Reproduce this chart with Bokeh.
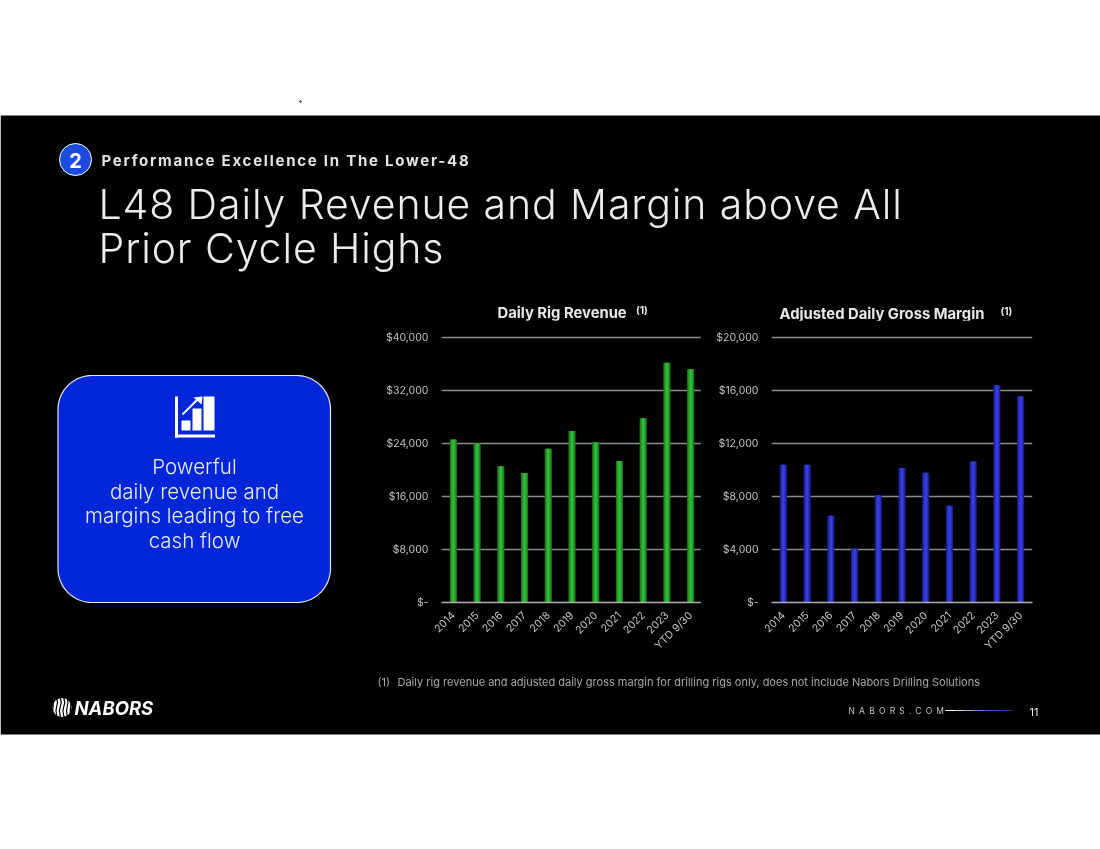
import numpy as np
from bokeh.plotting import figure
from bokeh.models import FactorRange, FixedTicker, Range1d
from bokeh.core.properties import value
from bokeh.embed import file_html
from bokeh.resources import INLINE

categories = ["2014", "2015", "2016", "2017", "2018", "2019", "2020", "2021", "2022", "2023", "YTD 9/30"]
revenue = [24600, 24000, 20550, 19550, 23200, 25900, 24200, 21350, 27800, 36200, 35200]
margin = [10400, 10400, 6550, 4050, 8100, 10150, 9800, 7300, 10650, 16400, 15550]
revenue_ticks = [0, 8000, 16000, 24000, 32000, 40000]
margin_ticks = [0, 4000, 8000, 12000, 16000, 20000]
heading = "Performance Excellence In The Lower-48"
title_lines = ["L48 Daily Revenue and Margin above All", "Prior Cycle Highs"]
box_lines = ["Powerful", "daily revenue and", "margins leading to free", "cash flow"]
footnote = "Daily rig revenue and adjusted daily gross margin for drilling rigs only, does not include Nabors Drilling Solutions"

FONT = "Inter"
LIGHT = "Inter Light"


def layer(spacing=None, fill=None):
    f = figure(width=1100, height=849, x_range=Range1d(0, 1100), y_range=Range1d(849, 0),
               output_backend="svg", toolbar_location=None, min_border=0,
               outline_line_color=None, background_fill_color=fill, border_fill_color=fill)
    f.axis.visible = False
    f.grid.visible = False
    f.styles = {"position": "fixed", "left": "0px", "top": "0px"}
    if spacing:
        f.styles["letter-spacing"] = spacing
    return f


def label(f, x, y, s, size, color, align="left", style="normal", font=FONT):
    f.text([x], [y], text=[s], text_font=value(font), text_font_size=size, text_color=color,
           text_align=align, text_baseline="middle", text_font_style=style)


bg = layer(fill="white")
head_layer = layer("1.75px")
title_layer = layer("0.9px")
url_layer = layer("4.2px")

bg.quad(left=[0], right=[1100], top=[115], bottom=[734], fill_color="black", line_color=None)
bg.scatter([300], [101], size=1.5, color="#333333")

# numbered badge and header
bg.scatter([75], [159], size=32, marker="circle", fill_color="#1d4be0", line_color="white", line_width=1)
label(bg, 75, 159.5, "2", "20px", "white", "center", "bold")
label(head_layer, 101, 159.5, heading, "15px", "#e4e4e4", style="bold")
label(title_layer, 98, 203, title_lines[0], "41px", "#ececec", font=LIGHT)
label(title_layer, 98, 247, title_lines[1], "41px", "#ececec", font=LIGHT)

# rounded call-out
L, R, T, B, r = 57.5, 330, 375, 602, 34
a = np.linspace(0, np.pi / 2, 24)
bx = np.r_[R - r + r * np.sin(a), R - r + r * np.cos(a), L + r - r * np.sin(a), L + r - r * np.cos(a)]
by = np.r_[T + r - r * np.cos(a), B - r + r * np.sin(a), B - r + r * np.cos(a), T + r - r * np.sin(a)]
bg.patch(bx, by, fill_color="#0327d8", line_color="#e6e8f5", line_width=1.2)

# chart icon
bg.quad(left=[174.5, 174.5, 181, 192, 203], right=[177.5, 214.5, 190, 201, 214],
        top=[396, 434, 420, 408, 396], bottom=[437, 437, 430, 430, 430],
        fill_color="white", line_color=None)
bg.line([182, 199], [414, 397], line_color="white", line_width=2)
bg.patch([193, 202, 201], [397, 396, 404], fill_color="white", line_color=None)

for yy, s in zip([466, 491, 515, 540], box_lines):
    label(bg, 194, yy, s, "20.5px", "#e8ecff", "center", font=LIGHT)

# chart titles
label(bg, 497, 312, "Daily Rig Revenue", "14.8px", "#e8e8e8", style="bold")
label(bg, 635.5, 309, "(1)", "10px", "#e8e8e8", style="bold")
label(bg, 779, 313, "Adjusted Daily Gross Margin", "14.8px", "#e8e8e8", style="bold")
label(bg, 1000, 310, "(1)", "10px", "#e8e8e8", style="bold")

# footnote
label(bg, 377, 681, "(1)", "11px", "#a8a8a8")
label(bg, 397, 681, footnote, "11px", "#a8a8a8")

# logo
bg.scatter([61.5], [707], size=19, marker="circle", fill_color="white", line_color=None)
for x0, bend in zip([52.5, 56, 59.5, 63, 66.5, 70], [0.5, 1, 1.3, 1.3, 1, 0.5]):
    bg.line([x0, x0 + bend, x0 - bend * 0.5, x0 + bend * 0.5], [696, 702, 710, 718],
            line_color="black", line_width=1.2)
label(bg, 74, 707.5, "NABORS", "18.5px", "white", style="bold italic")

# footer
label(url_layer, 848, 710.5, "NABORS.COM", "8.5px", "#c4c4c4")
grad = ["#ffffff", "#d4d4ee", "#a8a8e0", "#7c7cd4", "#5050c8", "#3a3ac0", "#2c2cb0"]
gx = np.linspace(945, 1012, len(grad) + 1)
bg.segment(x0=gx[:-1], x1=gx[1:], y0=[710] * len(grad), y1=[710] * len(grad), line_color=grad, line_width=1)
label(bg, 1029, 711, "11", "11px", "#e8e8e8")


def chart(left, values, ticks, edge, fill, core):
    p = figure(width=340, height=345, x_range=FactorRange(*categories, range_padding=0),
               y_range=Range1d(0, ticks[-1] * 267 / 265), output_backend="svg", toolbar_location=None,
               min_border_left=71, min_border_right=8, min_border_top=15, min_border_bottom=63,
               outline_line_color=None, background_fill_color="black", border_fill_color="black")
    p.styles = {"position": "fixed", "left": f"{left}px", "top": "320px"}
    p.vbar(x=categories, top=values, width=0.30, fill_color=edge, line_color=None)
    p.vbar(x=categories, top=values, width=0.20, fill_color=fill, line_color=None)
    p.vbar(x=categories, top=values, width=0.08, fill_color=core, line_color=None)
    p.yaxis.ticker = FixedTicker(ticks=ticks)
    p.yaxis.major_label_overrides = {t: (f"${t:,}" if t else "$-") for t in ticks}
    p.yaxis.axis_line_color = None
    p.yaxis.major_tick_line_color = None
    p.yaxis.major_tick_out = 0
    p.yaxis.minor_tick_line_color = None
    p.yaxis.major_label_standoff = 13
    p.yaxis.major_label_text_color = "#c0c0c0"
    p.yaxis.major_label_text_font = "Inter"
    p.yaxis.major_label_text_font_size = "10.5px"
    p.xaxis.axis_line_color = "#b0b0b0"
    p.xaxis.axis_line_width = 1.5
    p.xaxis.major_tick_line_color = None
    p.xaxis.minor_tick_line_color = None
    p.xaxis.major_label_orientation = np.pi / 4
    p.xaxis.major_label_standoff = 5
    p.xaxis.major_label_text_color = "#c8c8c8"
    p.xaxis.major_label_text_font = "Inter"
    p.xaxis.major_label_text_font_size = "10.5px"
    p.xgrid.visible = False
    p.ygrid.ticker = FixedTicker(ticks=ticks)
    p.ygrid.grid_line_color = "#8c8c8c"
    p.ygrid.grid_line_width = 1.5
    return p


c1 = chart(370, revenue, revenue_ticks, "#1a7a1e", "#27a02a", "#35bd38")
c2 = chart(700, margin, margin_ticks, "#1b1f96", "#2a2fc4", "#3a3fdc")

open("out.html", "w").write(file_html((bg, c1, c2, head_layer, title_layer, url_layer), INLINE))
